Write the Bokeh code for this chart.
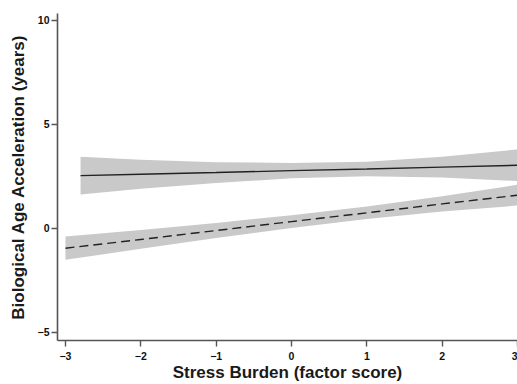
from bokeh.plotting import figure
from bokeh.models import Range1d, FixedTicker
from bokeh.embed import file_html
from bokeh.resources import INLINE

# Solid line (series 1) with confidence band
solid_x = [-2.8, -2.0, -1.0, 0.0, 1.0, 2.0, 3.0]
solid_mean = [2.53, 2.60, 2.68, 2.77, 2.85, 2.94, 3.03]
solid_lower = [1.62, 1.90, 2.18, 2.40, 2.50, 2.44, 2.27]
solid_upper = [3.44, 3.30, 3.18, 3.14, 3.20, 3.44, 3.79]

# Dashed line (series 2) with confidence band
dash_x = [-3.0, -2.0, -1.0, 0.0, 1.0, 2.0, 3.0]
dash_mean = [-0.96, -0.54, -0.11, 0.32, 0.74, 1.17, 1.59]
dash_lower = [-1.52, -0.99, -0.47, 0.01, 0.44, 0.80, 1.09]
dash_upper = [-0.40, -0.09, 0.25, 0.63, 1.04, 1.54, 2.09]

x_ticks = [-3, -2, -1, 0, 1, 2, 3]
y_ticks = [-5, 0, 5, 10]

def lab(v):
    return ("\u2212" + str(-v)) if v < 0 else str(v)

FONT = "Liberation Sans"

p = figure(width=517, height=384,
           x_range=Range1d(-3.106, 3.0), y_range=Range1d(-5.4, 10.33),
           min_border_left=57, min_border_right=0, min_border_top=13, min_border_bottom=42,
           output_backend="svg", toolbar_location=None)
p.outline_line_color = None
p.xgrid.visible = False
p.ygrid.visible = False
p.background_fill_color = "white"
p.border_fill_color = "white"

BAND = "#c9c9c9"
p.varea(x=solid_x, y1=solid_lower, y2=solid_upper, fill_color=BAND, fill_alpha=1.0)
p.varea(x=dash_x, y1=dash_lower, y2=dash_upper, fill_color=BAND, fill_alpha=1.0)
p.line(solid_x, solid_mean, line_color="#222222", line_width=1.4)
p.line(dash_x, dash_mean, line_color="#222222", line_width=1.4, line_dash="9 5")

for ax, ticks in ((p.xaxis, x_ticks), (p.yaxis, y_ticks)):
    ax.ticker = FixedTicker(ticks=ticks)
    ax.major_label_overrides = {t: lab(t) for t in ticks}
    ax.minor_tick_line_color = None
    ax.axis_line_color = "#555555"
    ax.axis_line_width = 1.6
    ax.major_tick_line_color = "#555555"
    ax.major_tick_line_width = 1.4
    ax.major_tick_in = 0
    ax.major_tick_out = 6
    ax.major_label_text_font = FONT
    ax.major_label_text_font_style = "bold"
    ax.major_label_text_font_size = "10.5px"
    ax.major_label_text_color = "#111111"
    ax.axis_label_text_font = FONT
    ax.axis_label_text_font_style = "bold"
    ax.axis_label_text_font_size = "17px"
    ax.axis_label_text_color = "#1a1a1a"

p.xaxis.axis_label = "Stress Burden (factor score)"
p.yaxis.axis_label = "Biological Age Acceleration (years)"
p.xaxis.major_label_standoff = 5
p.xaxis.axis_label_standoff = 0
p.yaxis.major_label_standoff = 2
p.yaxis.axis_label_standoff = 7

open("out.html", "w").write(file_html(p, INLINE))
